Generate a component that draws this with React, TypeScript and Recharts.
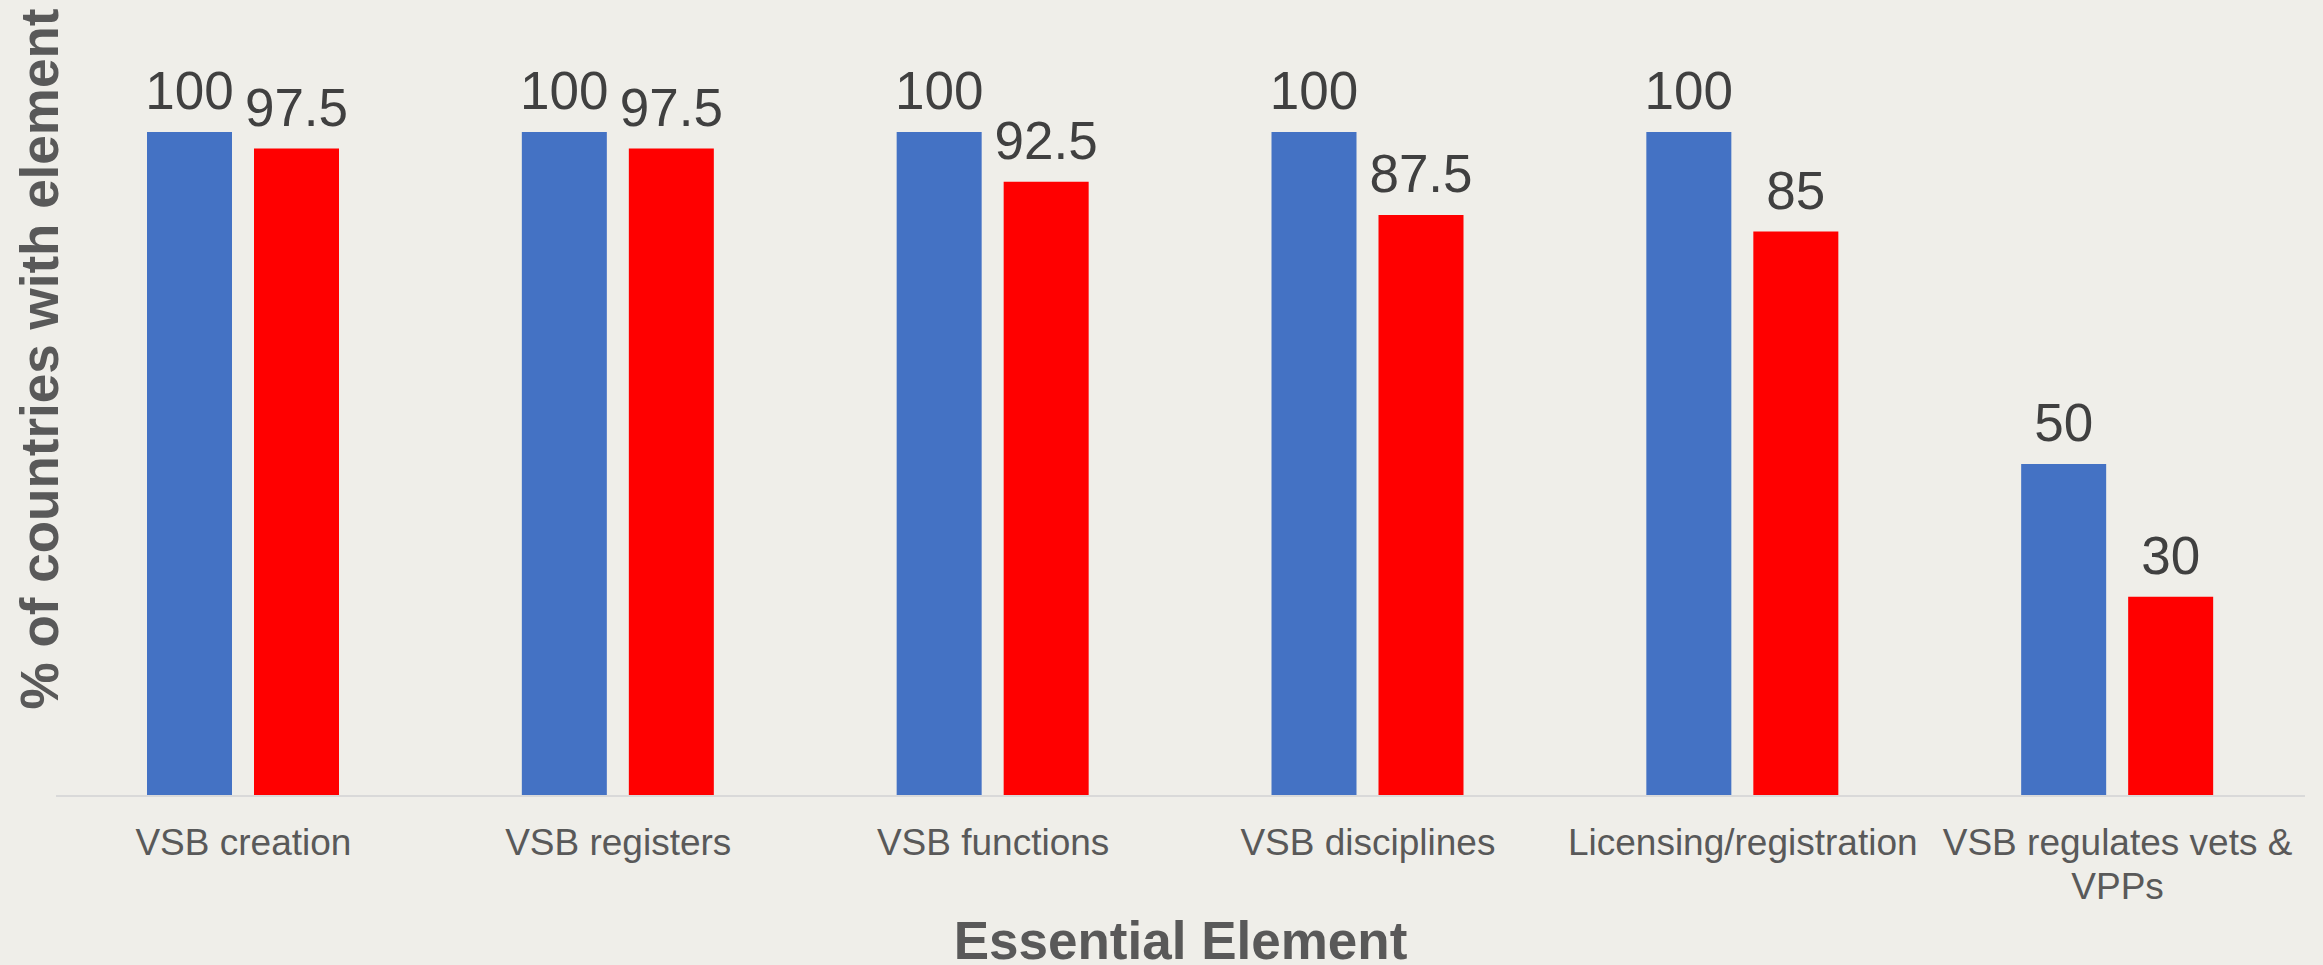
import { Bar, BarChart, Label, LabelList, XAxis, YAxis } from 'recharts'

const categories = [
  'VSB creation',
  'VSB registers',
  'VSB functions',
  'VSB disciplines',
  'Licensing/registration',
  'VSB regulates vets & VPPs',
]
const firstSeries = [100, 100, 100, 100, 100, 50]
const secondSeries = [97.5, 97.5, 92.5, 87.5, 85, 30]

const data = categories.map((name, i) => ({
  name,
  first: firstSeries[i],
  second: secondSeries[i],
}))

const FONT = '"Liberation Sans", Arial, sans-serif'
const COLORS = {
  bg: '#efeee9',
  blue: '#4472c4',
  red: '#ff0000',
  value: '#404040',
  text: '#595959',
  axis: '#d9d9d9',
}

// split a label into lines that fit maxWidth (canvas measure)
function wrap(text: string, font: string, maxWidth: number): string[] {
  const ctx = document.createElement('canvas').getContext('2d')
  if (!ctx) return [text]
  ctx.font = font
  const lines: string[] = []
  let cur = ''
  for (const w of text.split(' ')) {
    const next = cur ? `${cur} ${w}` : w
    if (cur && ctx.measureText(next).width > maxWidth) {
      lines.push(cur)
      cur = w
    } else {
      cur = next
    }
  }
  if (cur) lines.push(cur)
  return lines
}

function CategoryTick({ x, y, payload }: any) {
  const lines = wrap(payload.value, `37px ${FONT}`, 365)
  return (
    <text x={x} y={y + 57} textAnchor="middle" fontSize={37} fontFamily={FONT}
      fill={COLORS.text}>
      {lines.map((l, i) => (
        <tspan key={i} x={x} dy={i === 0 ? 0 : 44}>{l}</tspan>
      ))}
    </text>
  )
}

export default function App() {
  return (
    <div style={{ position: 'absolute', left: 0, top: 0, width: 2323, height: 965,
      background: COLORS.bg }}>
      <BarChart width={2323} height={965} data={data}
        margin={{ top: 132, right: 18, bottom: 0, left: 0 }}
        barSize={85} barGap={22}>
        <XAxis dataKey="name" height={169} tickSize={0} tickLine={false}
          axisLine={{ stroke: COLORS.axis, strokeWidth: 2 }}
          tick={<CategoryTick />} interval={0}>
          <Label content={({ viewBox }: any) => (
            <text x={viewBox.x + viewBox.width / 2} y={viewBox.y + 163}
              textAnchor="middle" fontFamily={FONT} fontWeight="bold" fontSize={53}
              fill={COLORS.text}>Essential Element</text>
          )} />
        </XAxis>
        <YAxis width={56} domain={[0, 100]} axisLine={false} tickLine={false}
          tick={false}>
          <Label content={() => (
            <text x={58} y={359} transform="rotate(-90, 58, 359)" textAnchor="middle"
              fontFamily={FONT} fontWeight="bold" fontSize={53}
              fill={COLORS.text}>% of countries with element</text>
          )} />
        </YAxis>
        <Bar dataKey="first" fill={COLORS.blue} isAnimationActive={false}>
          <LabelList dataKey="first" position="top" offset={23} fontSize={53}
            fontFamily={FONT} fill={COLORS.value} />
        </Bar>
        <Bar dataKey="second" fill={COLORS.red} isAnimationActive={false}>
          <LabelList dataKey="second" position="top" offset={23} fontSize={53}
            fontFamily={FONT} fill={COLORS.value} />
        </Bar>
      </BarChart>
    </div>
  )
}
